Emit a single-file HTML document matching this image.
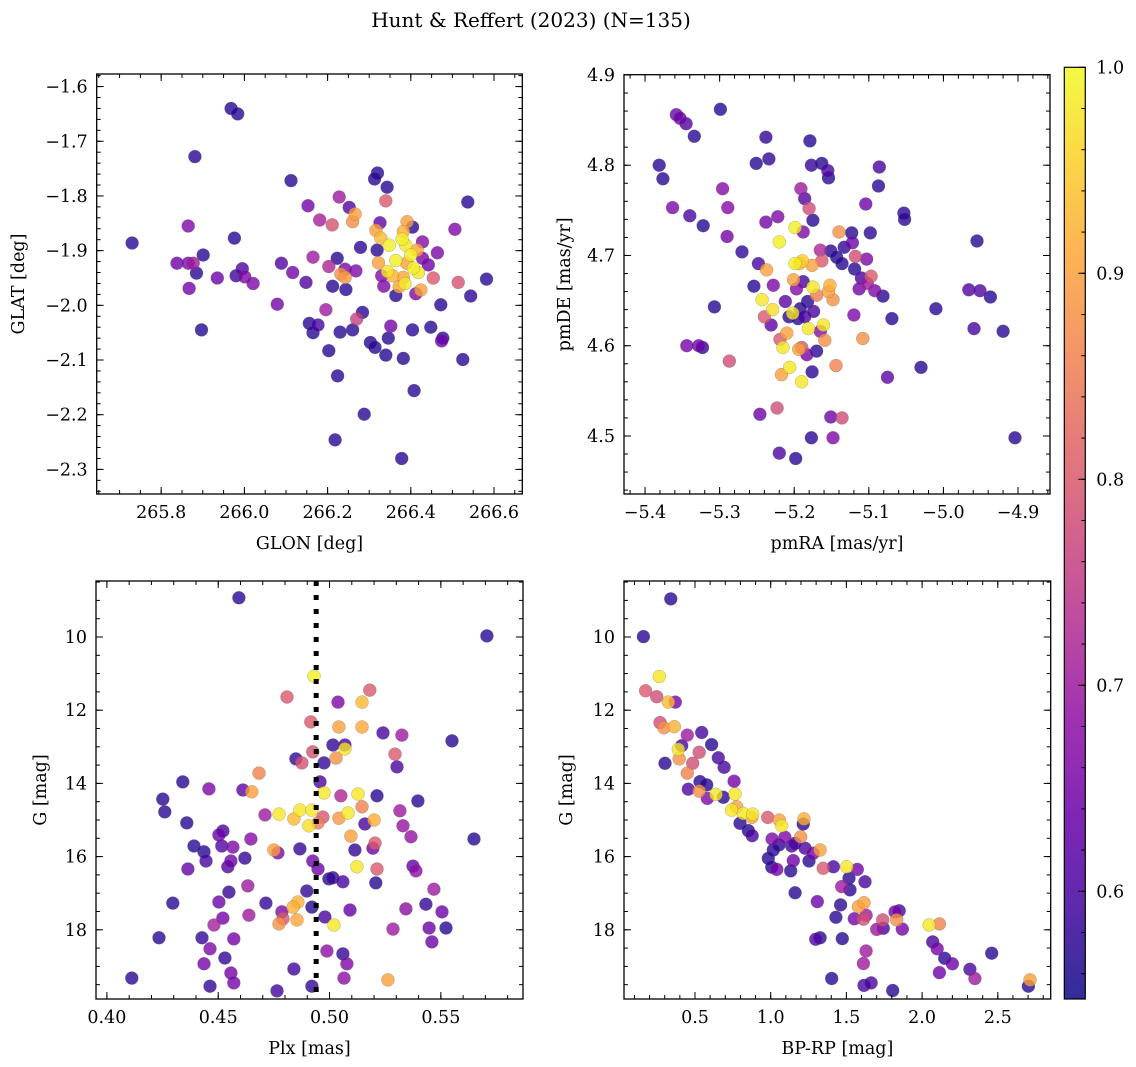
<!DOCTYPE html>
<html><head><meta charset="utf-8">
<style>
html,body{margin:0;padding:0;background:#fff;}
svg{display:block;font-family:"DejaVu Serif","Liberation Serif",serif;}
</style></head>
<body>
<svg id="fig" width="1136" height="1067" viewBox="0 0 1136 1067" xmlns="http://www.w3.org/2000/svg">
<rect width="1136" height="1067" fill="#fff"/>
<text x="531" y="27" font-size="20" text-anchor="middle" fill="#000">Hunt &amp; Reffert (2023) (N=135)</text>
</svg>
<script>
// ---------- data: panel 1 (GLON / GLAT) ----------
const glon = [265.730,265.968,265.984,265.881,266.112,265.865,265.976,265.838,265.865,265.877,265.901,265.885,265.867,265.935,265.995,265.980,266.001,266.021,266.089,266.116,266.079,265.897,266.153,266.165,266.148,266.156,266.165,266.177,266.181,266.320,266.313,266.343,266.228,266.252,266.340,266.537,266.211,266.266,266.260,266.326,266.391,266.506,266.316,266.404,266.382,266.328,266.279,266.348,266.379,266.388,266.428,266.415,266.464,266.319,266.223,266.203,266.242,266.268,266.232,266.242,266.322,266.364,266.400,266.390,266.428,266.442,266.406,266.344,266.356,266.330,266.418,266.382,266.454,266.514,266.582,266.212,266.244,266.335,266.386,266.372,266.424,266.364,266.412,266.544,266.472,266.196,266.284,266.270,266.230,266.260,266.352,266.404,266.448,266.477,266.474,266.303,266.314,266.346,266.340,266.382,266.525,266.203,266.224,266.408,266.288,266.218,266.378];
const glat = [-1.886,-1.640,-1.650,-1.728,-1.772,-1.855,-1.877,-1.923,-1.923,-1.923,-1.908,-1.941,-1.969,-1.950,-1.933,-1.946,-1.948,-1.960,-1.923,-1.940,-1.998,-2.045,-1.818,-1.912,-1.958,-2.033,-2.050,-2.036,-1.844,-1.758,-1.769,-1.784,-1.802,-1.821,-1.809,-1.811,-1.853,-1.833,-1.847,-1.849,-1.847,-1.861,-1.863,-1.857,-1.865,-1.877,-1.894,-1.890,-1.879,-1.890,-1.884,-1.899,-1.904,-1.899,-1.914,-1.929,-1.934,-1.937,-1.943,-1.949,-1.922,-1.918,-1.908,-1.923,-1.914,-1.926,-1.932,-1.938,-1.946,-1.946,-1.940,-1.949,-1.950,-1.958,-1.952,-1.965,-1.971,-1.965,-1.960,-1.966,-1.972,-1.982,-1.979,-1.983,-1.999,-2.008,-2.013,-2.025,-2.049,-2.045,-2.038,-2.045,-2.040,-2.060,-2.065,-2.068,-2.077,-2.060,-2.091,-2.097,-2.099,-2.083,-2.129,-2.156,-2.199,-2.246,-2.280];
const probPos = [.57,.57,.57,.57,.57,.66,.57,.64,.66,.70,.57,.57,.65,.64,.61,.59,.66,.66,.61,.65,.65,.57,.65,.70,.61,.57,.57,.60,.71,.57,.57,.57,.70,.61,.80,.57,.79,.90,.88,.63,.90,.66,.90,.57,.92,.93,.57,.99,.99,.98,.67,.91,.66,.57,.57,.72,.66,.66,.88,.89,.90,.99,.99,.90,.66,.64,.99,.98,.92,.67,.98,.91,.80,.79,.57,.57,.57,.66,.98,.91,.90,.57,.66,.57,.57,.70,.57,.76,.57,.57,.65,.57,.57,.57,.64,.57,.57,.57,.57,.57,.57,.57,.57,.57,.57,.57,.57];

// ---------- data: panel 2 (pmRA / pmDE) ----------
const pmra = [-5.358,-5.353,-5.345,-5.334,-5.299,-5.381,-5.376,-5.363,-5.340,-5.322,-5.296,-5.289,-5.290,-5.270,-5.344,-5.328,-5.323,-5.307,-5.287,-5.251,-5.238,-5.234,-5.238,-5.222,-5.220,-5.199,-5.254,-5.248,-5.237,-5.228,-5.243,-5.229,-5.240,-5.231,-5.212,-5.207,-5.195,-5.202,-5.219,-5.215,-5.210,-5.194,-5.217,-5.206,-5.223,-5.246,-5.220,-5.198,-5.201,-5.197,-5.199,-5.193,-5.179,-5.177,-5.163,-5.155,-5.154,-5.191,-5.186,-5.180,-5.175,-5.188,-5.140,-5.123,-5.098,-5.133,-5.122,-5.165,-5.151,-5.143,-5.136,-5.163,-5.176,-5.189,-5.118,-5.103,-5.119,-5.086,-5.087,-5.104,-5.053,-5.052,-4.955,-4.966,-4.951,-4.937,-5.010,-4.959,-4.920,-5.030,-5.075,-4.904,-5.110,-5.097,-5.102,-5.113,-5.092,-5.081,-5.120,-5.069,-5.108,-5.188,-5.175,-5.152,-5.154,-5.148,-5.170,-5.182,-5.192,-5.186,-5.174,-5.161,-5.181,-5.165,-5.159,-5.170,-5.183,-5.190,-5.144,-5.176,-5.190,-5.151,-5.136,-5.177,-5.148];
const pmde = [4.856,4.852,4.846,4.832,4.862,4.800,4.785,4.753,4.744,4.733,4.774,4.753,4.721,4.704,4.600,4.600,4.598,4.643,4.583,4.802,4.831,4.807,4.737,4.743,4.715,4.731,4.666,4.691,4.684,4.667,4.651,4.640,4.632,4.623,4.649,4.632,4.630,4.636,4.607,4.598,4.614,4.596,4.568,4.576,4.531,4.524,4.481,4.475,4.673,4.663,4.691,4.691,4.827,4.800,4.802,4.794,4.786,4.774,4.763,4.752,4.739,4.726,4.726,4.725,4.725,4.709,4.714,4.706,4.705,4.698,4.691,4.694,4.689,4.694,4.699,4.696,4.685,4.798,4.777,4.757,4.747,4.740,4.716,4.662,4.661,4.654,4.641,4.619,4.616,4.576,4.565,4.498,4.675,4.677,4.669,4.663,4.661,4.655,4.634,4.630,4.608,4.671,4.665,4.667,4.660,4.651,4.656,4.649,4.641,4.632,4.638,4.623,4.619,4.616,4.606,4.594,4.590,4.598,4.578,4.571,4.560,4.521,4.520,4.498,4.498];
const probPm = [.64,.64,.61,.57,.57,.57,.57,.66,.60,.57,.67,.67,.65,.58,.65,.64,.58,.57,.78,.57,.58,.58,.65,.66,.99,.99,.57,.60,.90,.66,.98,.97,.80,.62,.62,.57,.57,.98,.80,.98,.90,.90,.90,.98,.78,.64,.61,.57,.90,.67,.99,.93,.57,.58,.57,.60,.57,.70,.61,.78,.57,.66,.88,.57,.57,.58,.64,.72,.57,.57,.57,.80,.90,.95,.78,.66,.57,.60,.57,.64,.57,.57,.57,.61,.61,.57,.57,.60,.57,.57,.62,.57,.60,.80,.70,.65,.66,.57,.66,.57,.88,.60,.98,.92,.90,.88,.85,.57,.57,.60,.60,.98,.98,.67,.88,.57,.65,.80,.86,.57,.98,.64,.78,.57,.66];

// ---------- data: panel 3 (Plx / G) ----------
const plx = [0.4593,0.4930,0.4809,0.4916,0.4925,0.4849,0.4876,0.4683,0.4341,0.4458,0.4611,0.4651,0.4251,0.4260,0.4710,0.4773,0.4840,0.4867,0.4921,0.4907,0.4359,0.4521,0.4503,0.4647,0.4391,0.4516,0.4566,0.4867,0.4436,0.4750,0.4768,0.4445,0.4557,0.4620,0.4543,0.4925,0.4364,0.4633,0.4898,0.4548,0.4296,0.4503,0.4714,0.4858,0.4836,0.4921,0.4786,0.4638,0.4521,0.4481,0.4791,0.4773,0.4854,0.4234,0.4427,0.4570,0.4463,0.4530,0.4436,0.4557,0.4840,0.4112,0.4463,0.4570,0.4764,0.4921,0.5707,0.5181,0.5038,0.5146,0.5042,0.5146,0.5240,0.5325,0.5550,0.5015,0.5069,0.5069,0.4975,0.5029,0.5294,0.5303,0.4957,0.4975,0.5051,0.5128,0.5213,0.5397,0.5146,0.4970,0.5083,0.5042,0.5200,0.5159,0.5316,0.4948,0.5330,0.5366,0.5649,0.5096,0.5204,0.5195,0.5114,0.4948,0.5123,0.5213,0.5375,0.5388,0.4997,0.5015,0.5060,0.5208,0.5469,0.5092,0.5343,0.5433,0.5505,0.4979,0.5020,0.5285,0.5447,0.5523,0.5460,0.4988,0.5060,0.5078,0.5065,0.5262];
const gPlx = [8.93,11.07,11.64,12.32,13.14,13.33,13.44,13.72,13.96,14.15,14.18,14.23,14.43,14.78,14.86,14.84,14.97,14.73,14.73,15.16,15.08,15.30,15.41,15.52,15.71,15.71,15.74,15.79,15.87,15.82,15.90,16.12,16.12,16.04,16.28,16.12,16.34,16.80,16.94,16.97,17.27,17.24,17.27,17.24,17.38,17.38,17.51,17.60,17.68,17.87,17.70,17.84,17.73,18.22,18.22,18.25,18.52,18.77,18.93,19.18,19.07,19.32,19.54,19.45,19.67,19.54,9.97,11.45,11.78,11.78,12.46,12.46,12.62,12.68,12.84,12.95,12.95,13.06,13.44,13.31,13.20,13.55,13.96,14.26,14.34,14.29,14.34,14.48,14.64,14.92,14.81,14.95,15.00,15.11,14.75,15.08,15.16,15.46,15.52,15.44,15.63,15.77,15.82,16.34,16.28,16.34,16.26,16.39,16.61,16.58,16.69,16.72,16.89,17.46,17.43,17.30,17.51,17.65,17.87,17.98,17.95,17.95,18.33,18.58,18.66,18.93,19.32,19.37];
const probPlx = [.57,.99,.80,.80,.79,.58,.79,.86,.57,.66,.62,.90,.57,.57,.70,.98,.93,.98,.98,.97,.57,.60,.64,.67,.57,.61,.66,.58,.57,.90,.66,.60,.64,.58,.61,.65,.63,.70,.58,.58,.57,.64,.58,.92,.92,.57,.66,.70,.65,.71,.80,.88,.91,.57,.58,.65,.66,.58,.65,.65,.59,.57,.58,.65,.59,.58,.57,.80,.66,.93,.90,.91,.60,.70,.57,.58,.60,.98,.58,.88,.80,.60,.61,.98,.72,.98,.57,.57,.86,.80,.98,.89,.92,.60,.70,.85,.69,.69,.57,.90,.80,.64,.58,.64,.98,.80,.63,.68,.57,.58,.60,.57,.70,.63,.68,.58,.64,.60,.98,.70,.64,.57,.64,.68,.58,.66,.68,.90];
const plxLine = [0.494];

// ---------- data: panel 4 (BP-RP / G) ----------
const bprp = [0.340,0.159,0.264,0.174,0.247,0.370,0.324,0.269,0.295,0.363,0.449,0.544,0.610,0.302,0.412,0.390,0.396,0.528,0.485,0.449,0.654,0.692,0.758,0.456,0.533,0.577,0.528,0.581,0.639,0.687,0.764,0.775,0.742,0.819,0.881,0.875,0.797,0.852,0.878,0.980,1.057,1.073,1.220,1.215,1.198,1.009,1.094,1.055,1.017,1.139,1.227,1.281,1.326,0.984,1.007,1.040,1.132,1.149,1.253,1.347,1.414,1.502,1.572,1.517,1.623,1.469,1.524,1.161,1.308,1.462,1.579,1.616,1.630,1.612,1.552,1.431,1.700,1.744,1.740,1.821,1.849,1.832,1.869,2.046,2.114,1.297,1.326,1.473,2.070,2.100,1.630,2.149,2.200,1.612,2.460,2.316,2.349,2.114,1.403,1.616,1.663,1.806,2.713,2.702,1.161];
const gCmd = [8.96,9.99,11.08,11.47,11.63,11.78,11.78,12.34,12.48,12.45,12.68,12.61,12.94,13.45,12.97,13.07,13.33,13.15,13.45,13.72,13.30,13.56,13.94,14.16,13.95,14.04,14.21,14.41,14.30,14.38,14.29,14.64,14.73,14.82,14.84,14.93,15.09,15.29,15.43,14.93,15.00,15.16,14.97,15.11,15.46,15.52,15.47,15.68,15.82,15.71,15.77,15.91,15.82,16.05,16.29,16.35,16.39,16.11,16.12,16.32,16.28,16.28,16.35,16.59,16.69,16.82,16.91,16.99,17.23,17.32,17.37,17.26,17.60,17.71,17.70,17.66,17.99,17.96,17.73,17.51,17.48,17.73,17.98,17.87,17.84,18.26,18.22,18.24,18.33,18.52,18.58,18.78,18.93,18.92,18.64,19.08,19.33,19.17,19.33,19.52,19.45,19.66,19.37,19.54,15.64];
const probCmd = [.57,.57,.98,.80,.78,.65,.93,.78,.88,.92,.70,.60,.57,.57,.60,.98,.88,.78,.78,.86,.60,.60,.65,.61,.57,.57,.88,.66,.98,.57,.98,.90,.98,.98,.98,.90,.57,.57,.60,.80,.90,.98,.92,.57,.88,.66,.66,.57,.57,.60,.60,.65,.90,.57,.57,.65,.57,.64,.57,.80,.60,.98,.65,.57,.60,.70,.57,.57,.64,.57,.90,.90,.70,.78,.65,.57,.70,.60,.78,.65,.60,.88,.65,.98,.86,.61,.57,.57,.60,.65,.70,.57,.64,.70,.57,.60,.70,.64,.57,.60,.60,.57,.90,.57,.60];

// ---------- tick labels ----------
const ticksGlon = [265.8,266.0,266.2,266.4,266.6];
const ticksGlat = [-2.3,-2.2,-2.1,-2.0,-1.9,-1.8,-1.7,-1.6];
const ticksPmra = [-5.4,-5.3,-5.2,-5.1,-5.0,-4.9];
const ticksPmde = [4.5,4.6,4.7,4.8,4.9];
const ticksPlx = [0.40,0.45,0.50,0.55];
const ticksG = [10,12,14,16,18];
const ticksBprp = [0.5,1.0,1.5,2.0,2.5];
const ticksCbar = [0.6,0.7,0.8,0.9,1.0];
const cbarMin = 0.5477, cbarMax = 1.0;

// ---------- rendering ----------
const NS = "http://www.w3.org/2000/svg";
const svg = document.getElementById('fig');
const stops = ["#0d0887","#41049d","#6a00a8","#8f0da4","#b12a90","#cc4778","#e16462","#f2844b","#fca636","#fcce25","#f0f921"];
function hex(h){return [parseInt(h.substr(1,2),16),parseInt(h.substr(3,2),16),parseInt(h.substr(5,2),16)];}
function plasma(t){
  t=Math.max(0,Math.min(1,t));
  const f=t*10, i=Math.min(9,Math.floor(f)), r=f-i;
  const a=hex(stops[i]), b=hex(stops[i+1]);
  return "rgb("+a.map((v,k)=>Math.round(v+(b[k]-v)*r)).join(",")+")";
}
function mk(tag, attrs, parent){
  const e=document.createElementNS(NS,tag);
  for(const k in attrs) e.setAttribute(k,attrs[k]);
  (parent||svg).appendChild(e);
  return e;
}
function fmt(v,d){const s=v.toFixed(d);return s.replace('-','\u2212');}

function drawPanel(cfg, xs, ys, ps){
  const g=mk('g',{});
  
  
  const L=cfg.box[0],T=cfg.box[1],R=cfg.box[2],B=cfg.box[3];
  const sx=v=>L+(v-cfg.xd[0])/(cfg.xd[1]-cfg.xd[0])*(R-L);
  const sy=cfg.yInv ? (v=>T+(v-cfg.yd[0])/(cfg.yd[1]-cfg.yd[0])*(B-T))
                    : (v=>B-(v-cfg.yd[0])/(cfg.yd[1]-cfg.yd[0])*(B-T));
  const cid='clip-'+cfg.name;
  const cp=mk('clipPath',{id:cid},g);
  mk('rect',{x:L,y:T,width:R-L,height:B-T},cp);
  const pts=mk('g',{'clip-path':'url(#'+cid+')'},g);
  
  
  const idx=xs.map((_,i)=>i).sort((a,b)=>ps[a]-ps[b]);
  idx.forEach(i=>{
    const c=mk('circle',{cx:sx(xs[i]).toFixed(1),cy:sy(ys[i]).toFixed(1),r:6.5,fill:plasma((ps[i]-cbarMin)/(cbarMax-cbarMin)),'fill-opacity':0.8,stroke:'#666','stroke-width':0.4,'stroke-opacity':0.6},pts);
    
    
  });
  if(cfg.vline){
    cfg.vline.forEach(v=>{
      const ln=mk('line',{x1:sx(v),x2:sx(v),y1:T,y2:B,stroke:'#000','stroke-width':5,'stroke-dasharray':'5 9'},g);
      
      
    });
  }
  const fr=mk('rect',{x:L,y:T,width:R-L,height:B-T,fill:'none',stroke:'#000','stroke-width':1.3},g);
  
  
  const tk=mk('g',{stroke:'#000','stroke-width':1},g);
  
  
  // minor ticks
  const eps=1e-9;
  for(let v=Math.ceil(cfg.xd[0]/cfg.xm-eps)*cfg.xm; v<=cfg.xd[1]; v+=cfg.xm){
    const x=sx(v); mk('line',{x1:x,x2:x,y1:B,y2:B-4},tk); mk('line',{x1:x,x2:x,y1:T,y2:T+4},tk);
  }
  const ylo=Math.min(cfg.yd[0],cfg.yd[1]), yhi=Math.max(cfg.yd[0],cfg.yd[1]);
  for(let v=Math.ceil(ylo/cfg.ym-eps)*cfg.ym; v<=yhi; v+=cfg.ym){
    const y=sy(v); mk('line',{x1:L,x2:L+4,y1:y,y2:y},tk); mk('line',{x1:R,x2:R-4,y1:y,y2:y},tk);
  }
  const xl=mk('g',{'font-size':17.5,'text-anchor':'middle',fill:'#000'},g);
  
  
  cfg.xt.forEach(v=>{
    const x=sx(v); mk('line',{x1:x,x2:x,y1:B,y2:B-7},tk); mk('line',{x1:x,x2:x,y1:T,y2:T+7},tk);
    const t=mk('text',{x:x,y:B+24},xl); t.textContent=fmt(v,cfg.xdp);
  });
  const yl=mk('g',{'font-size':17.5,'text-anchor':'end',fill:'#000'},g);
  
  
  cfg.yt.forEach(v=>{
    const y=sy(v); mk('line',{x1:L,x2:L+7,y1:y,y2:y},tk); mk('line',{x1:R,x2:R-7,y1:y,y2:y},tk);
    const t=mk('text',{x:L-9,y:y+6},yl); t.textContent=fmt(v,cfg.ydp);
  });
  const xt=mk('text',{x:(L+R)/2,y:B+55,'font-size':17.5,'text-anchor':'middle',fill:'#000'},g);
  
  
  xt.textContent=cfg.xlabel;
  const cy=(T+B)/2;
  const yt=mk('text',{x:cfg.ylx,y:cy,'font-size':17.5,'text-anchor':'middle',fill:'#000',transform:'rotate(-90 '+cfg.ylx+' '+cy+')'},g);
  
  
  yt.textContent=cfg.ylabel;
}

drawPanel({name:'position-panel',box:[96.7,74,522.3,494],xd:[265.645,266.668],yd:[-2.345,-1.577],xt:ticksGlon,yt:ticksGlat,xm:0.05,ym:0.02,xdp:1,ydp:1,xlabel:'GLON [deg]',ylabel:'GLAT [deg]',ylx:24},glon,glat,probPos);
drawPanel({name:'proper-motion-panel',box:[624,74.7,1050,494],xd:[-5.4282,-4.8571],yd:[4.4357,4.9003],xt:ticksPmra,yt:ticksPmde,xm:0.02,ym:0.02,xdp:1,ydp:1,xlabel:'pmRA [mas/yr]',ylabel:'pmDE [mas/yr]',ylx:570},pmra,pmde,probPm);
drawPanel({name:'parallax-panel',box:[96,581,523,999],xd:[0.3951,0.5869],yd:[8.47,19.891],yInv:true,xt:ticksPlx,yt:ticksG,xm:0.01,ym:0.5,xdp:2,ydp:0,xlabel:'Plx [mas]',ylabel:'G [mag]',ylx:46,vline:plxLine},plx,gPlx,probPlx);
drawPanel({name:'cmd-panel',box:[624,581,1050.7,999],xd:[0.0311,2.8494],yd:[8.47,19.891],yInv:true,xt:ticksBprp,yt:ticksG,xm:0.1,ym:0.5,xdp:1,ydp:0,xlabel:'BP-RP [mag]',ylabel:'G [mag]',ylx:572},bprp,gCmd,probCmd);

// colorbar
(function(){
  const L=1064.3,R=1085.3,T=67.3,B=999;
  const cg=mk('g',{});
  
  
  const defs=mk('defs',{},cg);
  const lg=mk('linearGradient',{id:'cbgrad',x1:0,y1:1,x2:0,y2:0},defs);
  for(let i=0;i<=20;i++){mk('stop',{offset:i/20,'stop-color':plasma(i/20),'stop-opacity':0.85},lg);}
  mk('rect',{x:L,y:T,width:R-L,height:B-T,fill:'url(#cbgrad)'},cg);
  mk('rect',{x:L,y:T,width:R-L,height:B-T,fill:'none',stroke:'#000','stroke-width':1.2},cg);
  const sy=v=>B-(v-cbarMin)/(cbarMax-cbarMin)*(B-T);
  for(let v=0.56; v<=1.0001; v+=0.02){const y=sy(v); mk('line',{x1:R,x2:R-4,y1:y,y2:y,stroke:'#000'},cg);}
  const lab=mk('g',{'font-size':17.5,fill:'#000'},cg);
  
  
  ticksCbar.forEach(v=>{
    const y=sy(v); mk('line',{x1:R,x2:R-7,y1:y,y2:y,stroke:'#000'},cg);
    const t=mk('text',{x:R+11,y:y+6},lab); t.textContent=v.toFixed(1);
  });
})();
</script>
</body></html>
